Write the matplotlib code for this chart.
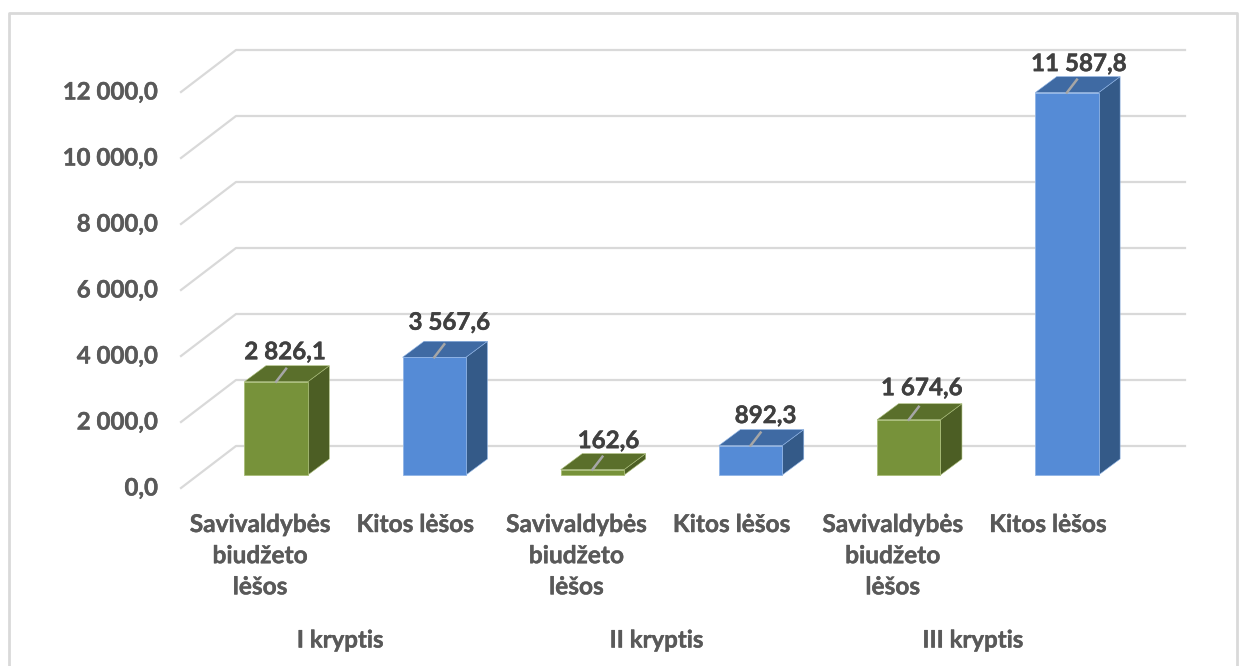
import matplotlib
matplotlib.use('Agg')
import matplotlib.pyplot as plt
import matplotlib.patheffects as pe
from matplotlib.patches import Polygon, Rectangle

plt.rcParams['font.family'] = ['Lato', 'DejaVu Sans']

# values
kategorijos = ['Savivaldybės\nbiudžeto\nlėšos', 'Kitos lėšos'] * 3
reiksmes = [2826.1, 3567.6, 162.6, 892.3, 1674.6, 11587.8]
reiksmiu_zymos = ['2 826,1', '3 567,6', '162,6', '892,3', '1 674,6', '11 587,8']
kryptys = ['I kryptis', 'II kryptis', 'III kryptis']
y_ticks = [0, 2000, 4000, 6000, 8000, 10000, 12000]
y_zymos = ['0,0', '2 000,0', '4 000,0', '6 000,0', '8 000,0', '10 000,0', '12 000,0']

W, H = 1244, 666
fig = plt.figure(figsize=(W / 100, H / 100), dpi=100)

# axes = back wall of the 3D chart, one unit of x = one bar slot
L, R, T, B = 236, 1185, 50, 446
ax = fig.add_axes([L / W, 1 - B / H, (R - L) / W, (B - T) / H])
ax.set_xlim(0, 6)
ax.set_ylim(0, 12000)
ax.axis('off')

px = 6 / (R - L)        # x data per pixel
py = 12000 / (B - T)    # y data per pixel

# Lato bold is a bit lighter than the original font
storis = [pe.withStroke(linewidth=0.3, foreground='#595959')]
storis_d = [pe.withStroke(linewidth=0.3, foreground='#404040')]

grid = '#d9d9d9'
for t, z in zip(y_ticks, y_zymos):
    ax.plot([-55 * px, 0, 6], [t - 42 * py, t, t], color=grid, lw=1.6, clip_on=False, zorder=1)
    ax.text(-78 * px, t - 42 * py, z, ha='right', va='center', fontsize=17.3, fontweight='bold',
            color='#595959', path_effects=storis)

# bar plane sits in front of the wall
dx_front, dy_front = -39 * px, -29 * py
dx_depth, dy_depth = 21.5 * px, 16 * py
half = 31.7 * px

spalvos = [('#77923a', '#5a6f2b', '#4c5e24', '#a9bd78'), ('#558bd6', '#3f6aa3', '#345a88', '#8fb4e6')]
# small shifts of the value labels, in pixels
zymu_dx = [9, 15, 16, 15, 13, 12]
zymu_dy = [30, 35, 29, 30, 32, 29]

for i, v in enumerate(reiksmes):
    front, top, side, edge = spalvos[i % 2]
    c = i + 0.5 + dx_front
    x0, x1 = c - half, c + half
    y0, y1 = dy_front, v + dy_front
    ax.add_patch(Polygon([(x1, y0), (x1 + dx_depth, y0 + dy_depth), (x1 + dx_depth, y1 + dy_depth), (x1, y1)],
                         fc=side, ec=edge, lw=0.4, clip_on=False, zorder=3))
    ax.add_patch(Polygon([(x0, y1), (x1, y1), (x1 + dx_depth, y1 + dy_depth), (x0 + dx_depth, y1 + dy_depth)],
                         fc=top, ec=edge, lw=0.4, clip_on=False, zorder=3))
    ax.add_patch(Rectangle((x0, y0), x1 - x0, v, fc=front, ec=edge, lw=0.6, clip_on=False, zorder=4))
    # leader line on the top face
    ax.plot([c, c + 10 * px], [y1, y1 + 13 * py], color='#a6a6a6', lw=1.8, clip_on=False, zorder=5)
    ax.text(c + zymu_dx[i] * px, y1 + zymu_dy[i] * py, reiksmiu_zymos[i], ha='center', va='center',
            fontsize=17.4, fontweight='bold', color='#404040', zorder=6, path_effects=storis_d)
    # category label, shifted left of the bar like the floor perspective
    shift = -16 if i % 2 == 0 else -19
    ax.text(c + shift * px, -67 * py, kategorijos[i], ha='center', va='top', fontsize=17.6,
            fontweight='bold', color='#595959', linespacing=1.43, path_effects=storis)

for j, k in enumerate(kryptys):
    ax.text(j * 2 + 1 + dx_front - 15 * px, -194 * py, k, ha='center', va='center', fontsize=17.3,
            fontweight='bold', color='#595959', path_effects=storis)

# frame of the screenshot
fig.add_artist(plt.Line2D([9 / W, 9 / W, 1237 / W, 1237 / W], [0, 1 - 13 / H, 1 - 13 / H, 0],
                          color='#d9d9d9', lw=2))

fig.savefig('out.png', dpi=100)
